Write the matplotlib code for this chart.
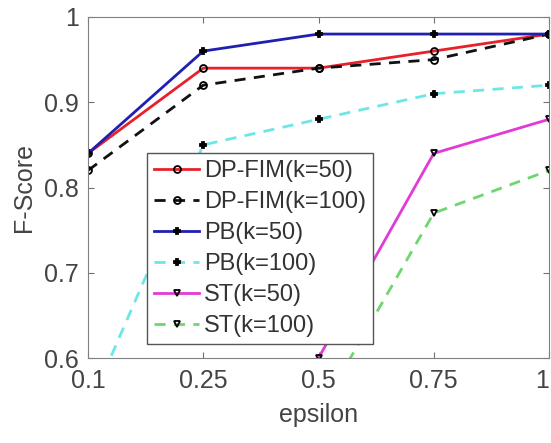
import matplotlib
matplotlib.use("Agg")
import matplotlib.pyplot as plt
import matplotlib.transforms as mtransforms

epsilon_labels = ["0.1", "0.25", "0.5", "0.75", "1"]
dpfim_k50 = [0.84, 0.94, 0.94, 0.96, 0.98]
dpfim_k100 = [0.82, 0.92, 0.94, 0.95, 0.98]
pb_k50 = [0.84, 0.96, 0.98, 0.98, 0.98]
pb_k100 = [0.54, 0.85, 0.88, 0.91, 0.92]
st_k50 = [0.45, 0.50, 0.60, 0.84, 0.88]
st_k100 = [0.40, 0.45, 0.535, 0.77, 0.82]

plt.rcParams['font.family'] = ['Liberation Sans', 'DejaVu Sans']

fig = plt.figure(figsize=(5.51, 4.43), dpi=100)
ax = fig.add_axes([88/551, 1-358/443, 461/551, 341/443])
x = list(range(len(epsilon_labels)))

series = [
    (dpfim_k50, "DP-FIM(k=50)", "#e8202a", "-", "o", "none"),
    (dpfim_k100, "DP-FIM(k=100)", "#111111", "--", "o", "none"),
    (pb_k50, "PB(k=50)", "#1f1fb0", "-", "P", "k"),
    (pb_k100, "PB(k=100)", "#6fe6e6", "--", "P", "k"),
    (st_k50, "ST(k=50)", "#e23ad6", "-", "v", "none"),
    (st_k100, "ST(k=100)", "#6ed66e", "--", "v", "none"),
]
for ys, lab, col, ls, mk, mfc in series:
    kw = dict(color=col, lw=2, marker=mk, markersize=5 if mk != "P" else 4,
              markerfacecolor=mfc, markeredgecolor="k", markeredgewidth=1.3,
              label=lab)
    if ls == "--":
        kw["dashes"] = (4, 3)
    ax.plot(x, ys, ls, **kw)

ax.set_xlim(0, 4)
ax.set_ylim(0.6, 1.0)
ax.set_xticks(x)
ax.set_xticklabels(epsilon_labels)
ax.set_yticks([0.6, 0.7, 0.8, 0.9, 1.0])
ax.set_yticklabels(["0.6", "0.7", "0.8", "0.9", "1"])
ax.tick_params(direction="in", top=True, right=True, labelsize=18,
               colors="#707070", labelcolor="#444444", length=4)
ax.tick_params(axis="x", pad=8)
ax.tick_params(axis="y", pad=6.5)
for s in ax.spines.values():
    s.set_color("#808080")
ax.set_xlabel("epsilon", fontsize=18, color="#444444", labelpad=7)
ax.set_ylabel("F-Score", fontsize=18, color="#444444", labelpad=6)

# keep the last x tick label inside the image, as in the reference
last = ax.get_xticklabels()[-1]
last.set_transform(last.get_transform() +
                   mtransforms.ScaledTranslation(-7/100, 0, fig.dpi_scale_trans))

leg = ax.legend(loc="upper left", bbox_to_anchor=((147-88)/461, (358-153)/341),
                borderaxespad=0,
                fontsize=17, handlelength=1.9, handletextpad=0.2,
                labelspacing=0.38, borderpad=0.3, fancybox=False,
                framealpha=1, edgecolor="#555555")
for t in leg.get_texts():
    t.set_color("#333333")

fig.savefig("out.png", dpi=100)
